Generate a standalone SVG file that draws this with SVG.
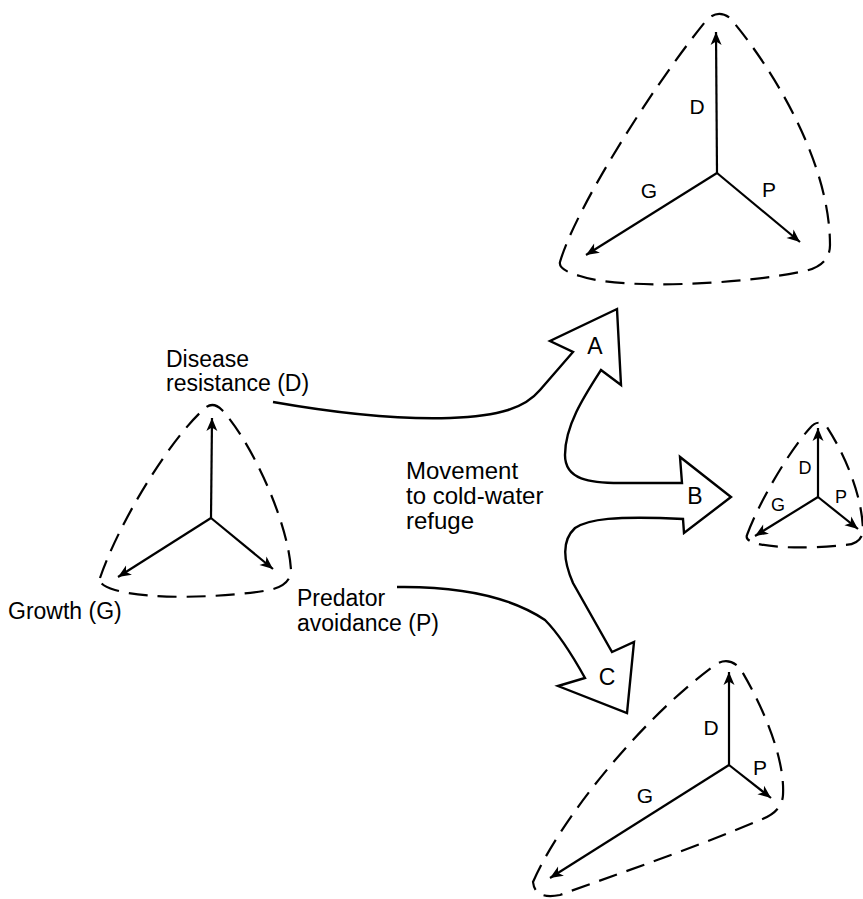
<svg xmlns="http://www.w3.org/2000/svg" width="863" height="899" viewBox="0 0 863 899">
<style>
.bd{fill:none;stroke:#000;stroke-width:2.2;stroke-dasharray:19 10}
.ax{fill:none;stroke:#000;stroke-width:2.2;marker-end:url(#ah)}
.cn{fill:none;stroke:#000;stroke-width:2.4;stroke-linejoin:miter}
text{font-family:"Liberation Sans",Arial,sans-serif;fill:#000}
.lb{font-size:23px}
.mv{font-size:24px}
.tl{font-size:21px;text-anchor:middle}
.ts{font-size:18px;text-anchor:middle}
.al{font-size:23px;text-anchor:middle}
</style>
<defs>
<marker id="ah" markerUnits="userSpaceOnUse" markerWidth="16" markerHeight="12" viewBox="-14 -6 16 12" refX="0" refY="0" orient="auto">
<path d="M0,0 L-13,-5.5 L-9.5,0 L-13,5.5 Z" fill="#000"/>
</marker>
</defs>
<g id="tripod-start">
<path class="bd" d="M 100,578 C 120,520 170,440 203,410 Q 212,400 222,410 C 250,440 288,520 291,570 Q 291,585 270,590 C 220,598 150,600 115,590 Q 98,585 100,578 Z"/>
<line class="ax" x1="211" y1="518" x2="212" y2="418"/>
<line class="ax" x1="211" y1="518" x2="118" y2="577"/>
<line class="ax" x1="211" y1="518" x2="273" y2="569"/>
</g>
<g id="tripod-a">
<path class="bd" d="M 560,262 C 575,210 650,90 705,22 Q 717,8 730,18 C 770,65 830,160 830,245 Q 830,265 805,271 C 740,285 620,290 580,276 Q 558,270 560,262 Z"/>
<line class="ax" x1="717" y1="173" x2="716" y2="32"/>
<line class="ax" x1="717" y1="173" x2="586" y2="255"/>
<line class="ax" x1="717" y1="173" x2="800" y2="242"/>
<text class="tl" x="697" y="114">D</text>
<text class="tl" x="649" y="198">G</text>
<text class="tl" x="769" y="197">P</text>
</g>
<g id="tripod-b">
<path class="bd" d="M 747,535 C 760,500 790,450 810,428 Q 818,418 827,427 C 845,455 862,495 863,530 Q 862,544 845,545 C 810,549 770,548 755,543 Q 745,540 747,535 Z"/>
<line class="ax" x1="818" y1="497" x2="818" y2="428"/>
<line class="ax" x1="818" y1="497" x2="755" y2="536"/>
<line class="ax" x1="818" y1="497" x2="858" y2="529"/>
<text class="ts" x="805" y="474">D</text>
<text class="ts" x="778" y="511">G</text>
<text class="ts" x="841" y="503">P</text>
</g>
<g id="tripod-c">
<path class="bd" d="M 533,882 C 560,820 640,720 715,665 Q 728,656 740,668 C 765,710 785,760 783,795 Q 782,812 760,820 C 690,850 600,880 560,895 Q 535,900 533,882 Z"/>
<line class="ax" x1="729" y1="765" x2="729" y2="672"/>
<line class="ax" x1="729" y1="765" x2="550" y2="878"/>
<line class="ax" x1="729" y1="765" x2="771" y2="798"/>
<text class="tl" x="711" y="735">D</text>
<text class="tl" x="645" y="803">G</text>
<text class="tl" x="760" y="775">P</text>
</g>
<g id="connectors">
<path class="cn" d="M 273,402 C 330,412 390,420 450,418 C 500,416 525,408 540,390 L 573,352 L 550,341 L 617,309 L 621,385 L 601,370 C 585,395 565,425 565,455 C 565,480 590,483 620,483 L 682,483 L 680,457 L 731,497 L 684,533 L 683,519 L 660,518 C 620,517 590,518 575,528 C 562,540 563,560 573,583 L 612,652 L 634,642 L 627,713 L 558,686 L 585,678 C 575,660 560,635 545,620 C 515,600 470,586 397,587"/>
</g>
<g id="labels">
<text class="lb" x="166" y="367">Disease</text>
<text class="lb" x="166" y="391">resistance (D)</text>
<text class="lb" x="8" y="619">Growth (G)</text>
<text class="lb" x="297" y="606">Predator</text>
<text class="lb" x="297" y="631">avoidance (P)</text>
<text class="mv" x="406" y="479">Movement</text>
<text class="mv" x="406" y="504">to cold-water</text>
<text class="mv" x="406" y="529">refuge</text>
<text class="al" x="595" y="354">A</text>
<text class="al" x="695" y="504">B</text>
<text class="al" x="607" y="685">C</text>
</g>
</svg>
